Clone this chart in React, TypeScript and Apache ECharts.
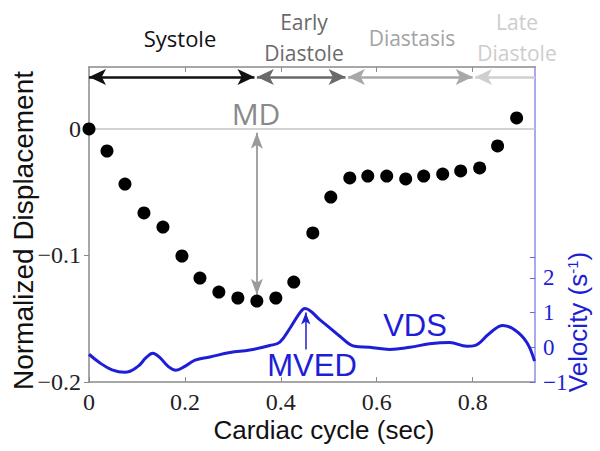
import React, { useEffect, useRef } from "react";
import * as echarts from "echarts";

// Displacement samples (time in sec, normalized displacement)
const dispTime = [0, 0.0375, 0.075, 0.1146, 0.1542, 0.1938, 0.2313, 0.2708, 0.3104, 0.35, 0.3896, 0.427, 0.4667, 0.5042, 0.5438, 0.5813, 0.6208, 0.6604, 0.6979, 0.7375, 0.775, 0.8146, 0.852, 0.8917];
const dispValue = [0, -0.0174, -0.0435, -0.0664, -0.0775, -0.1004, -0.1178, -0.1289, -0.1336, -0.136, -0.1336, -0.121, -0.0822, -0.0538, -0.0387, -0.0372, -0.0372, -0.0395, -0.0372, -0.0356, -0.0332, -0.0308, -0.0134, 0.0087];

// Velocity curve (time in sec, velocity in 1/s)
const velTime = [0, 0.023, 0.048, 0.075, 0.102, 0.119, 0.133, 0.148, 0.165, 0.181, 0.2, 0.221, 0.252, 0.294, 0.335, 0.377, 0.398, 0.419, 0.44, 0.45, 0.481, 0.523, 0.554, 0.585, 0.627, 0.669, 0.71, 0.752, 0.788, 0.804, 0.835, 0.863, 0.888, 0.913, 0.929];
const velValue = [-0.2, -0.45, -0.65, -0.72, -0.55, -0.3, -0.17, -0.3, -0.55, -0.66, -0.55, -0.37, -0.28, -0.15, -0.08, 0.05, 0.15, 0.55, 1.0, 1.12, 0.8, 0.32, 0.03, 0.0, -0.06, 0.0, 0.1, 0.14, 0.03, 0.05, 0.4, 0.63, 0.5, 0.14, -0.4];

const xTicks = [0, 0.2, 0.4, 0.6, 0.8];
const xTickLabels = ["0", "0.2", "0.4", "0.6", "0.8"];
const leftTicks = [-0.2, -0.1, 0];
const leftTickLabels = ["\u22120.2", "\u22120.1", "0"];
const rightTicks = [-1, 0, 1, 2];
const rightTickLabels = ["\u22121", "0", "1", "2"];

// Cardiac phases
const phaseStart = [0, 0.35, 0.54, 0.805];
const phaseEnd = [0.345, 0.535, 0.8, 0.93];
const phaseColor = ["#111111", "#6a6a6a", "#a8a8a8", "#cfcfcf"];

const X_MAX = 0.93;
const Y_MAX = 0.049;
const V_MAX = 8.08;
const BLUE = "#1e1ed6";

export default function App() {
  const ref = useRef<HTMLDivElement>(null);
  useEffect(() => {
    if (!ref.current) return;
    const chart = echarts.init(ref.current, null, { renderer: "svg" });
    const phaseArrowY = 0.041;
    const phaseLines: any[] = phaseStart.map((s, i) => [
      { coord: [s, phaseArrowY], symbol: "arrow", symbolSize: [12, 17] },
      {
        coord: [phaseEnd[i], phaseArrowY],
        symbol: i === 3 ? "none" : "arrow",
        symbolSize: [12, 17],
        lineStyle: { color: phaseColor[i], width: 2.5, type: "solid" },
      },
    ]);
    const option: any = {
      animation: false,
      backgroundColor: "#ffffff",
      grid: { left: 89, right: 65, top: 67, bottom: 69, containLabel: false, outerBoundsMode: "none" },
      xAxis: [
        {
          type: "value",
          min: 0,
          max: X_MAX,
          name: "Cardiac cycle (sec)",
          nameLocation: "middle",
          nameGap: 38,
          nameMoveOverlap: false,
          nameTextStyle: { fontFamily: "Liberation Sans", fontSize: 26, lineHeight: 20, color: "#111", padding: [0, 0, 0, 24] },
          splitLine: { show: false },
          axisLine: { onZero: false, lineStyle: { color: "#8a8a8a", width: 1.5 } },
          axisTick: { inside: true, length: 5, customValues: xTicks, lineStyle: { color: "#8a8a8a" } },
          axisLabel: {
            customValues: xTicks,
            margin: 10,
            fontFamily: "Liberation Serif",
            fontSize: 24,
            lineHeight: 20,
            color: "#222",
            formatter: (v: number) => {
              const i = xTicks.findIndex((t) => Math.abs(t - v) < 1e-6);
              return i >= 0 ? xTickLabels[i] : "";
            },
          },
        },
        {
          type: "value",
          position: "top",
          min: 0,
          max: X_MAX,
          splitLine: { show: false },
          axisLine: { onZero: false, lineStyle: { color: "#8a8a8a", width: 1.5 } },
          axisTick: { inside: true, length: 5, customValues: xTicks.slice(1), lineStyle: { color: "#8a8a8a" } },
          axisLabel: { show: false },
        },
      ],
      yAxis: [
        {
          type: "value",
          position: "left",
          min: -0.2,
          max: Y_MAX,
          name: "Normalized Displacement",
          nameLocation: "middle",
          nameGap: 52,
          nameMoveOverlap: false,
          nameTextStyle: { fontFamily: "Liberation Sans", fontSize: 28, color: "#111", padding: [0, 12, 0, 0] },
          splitLine: { show: false },
          axisLine: { onZero: false, lineStyle: { color: "#8a8a8a", width: 1.5 } },
          axisTick: { inside: false, length: 5, customValues: leftTicks, lineStyle: { color: "#8a8a8a" } },
          axisLabel: {
            customValues: leftTicks,
            margin: 8,
            fontFamily: "Liberation Serif",
            fontSize: 24,
            color: "#222",
            formatter: (v: number) => {
              const i = leftTicks.findIndex((t) => Math.abs(t - v) < 1e-6);
              return i >= 0 ? leftTickLabels[i] : "";
            },
          },
        },
        {
          type: "value",
          position: "right",
          min: -1,
          max: V_MAX,
          splitLine: { show: false },
          axisLine: { onZero: false, lineStyle: { color: "#8c8ce6", width: 1.5 } },
          axisTick: { inside: true, length: 5, customValues: [-1, 0, 1, 2, 2.6], lineStyle: { color: "#6c6cdc" } },
          axisLabel: {
            customValues: rightTicks,
            margin: 8,
            fontFamily: "Liberation Serif",
            fontSize: 23,
            color: BLUE,
            formatter: (v: number) => {
              const i = rightTicks.findIndex((t) => Math.abs(t - v) < 1e-6);
              return i >= 0 ? rightTickLabels[i] : "";
            },
          },
        },
      ],
      series: [
        {
          type: "line",
          xAxisIndex: 0,
          yAxisIndex: 1,
          data: velTime.map((t, i) => [t, velValue[i]]),
          smooth: 0.4,
          showSymbol: false,
          symbol: "none",
          lineStyle: { color: BLUE, width: 3 },
          z: 3,
          markLine: {
            silent: true,
            label: { show: false },
            data: [
              [
                { coord: [0.452, -0.06], symbol: "none" },
                { coord: [0.452, 1.0], symbol: "arrow", symbolSize: [7, 12], lineStyle: { color: BLUE, width: 1.5, type: "solid" } },
              ],
            ],
          },
        },
        {
          type: "scatter",
          xAxisIndex: 0,
          yAxisIndex: 0,
          data: dispTime.map((t, i) => [t, dispValue[i]]),
          symbolSize: 13,
          itemStyle: { color: "#000000", opacity: 1 },
          z: 5,
          markLine: {
            silent: true,
            label: { show: false },
            data: [
              [
                { coord: [0, 0], symbol: "none" },
                { coord: [X_MAX, 0], symbol: "none", lineStyle: { color: "#c4c4c4", width: 1.5, type: "solid" } },
              ],
              ...phaseLines,
              [
                { coord: [0.35, -0.003], symbol: "arrow", symbolSize: [9, 16] },
                { coord: [0.35, -0.131], symbol: "arrow", symbolSize: [9, 16], lineStyle: { color: "#9a9a9a", width: 1.8, type: "solid" } },
              ],
            ],
          },
        },
      ],
      graphic: [
        { type: "text", x: 180, y: 38, style: { text: "Systole", fill: "#111", font: "22px 'Open Sans'", align: "center", verticalAlign: "middle" } },
        { type: "text", x: 304, y: 37, style: { text: "Early\nDiastole", fill: "#6a6a6a", font: "21px 'Open Sans'", lineHeight: 31, align: "center", verticalAlign: "middle" } },
        { type: "text", x: 412, y: 38, style: { text: "Diastasis", fill: "#a3a3a3", font: "21px 'Open Sans'", align: "center", verticalAlign: "middle" } },
        { type: "text", x: 517, y: 37, style: { text: "Late\nDiastole", fill: "#cdcdcd", font: "21px 'Open Sans'", lineHeight: 31, align: "center", verticalAlign: "middle" } },
        { type: "text", x: 256, y: 113, style: { text: "MD", fill: "#8a8a8a", font: "30px 'Open Sans'", align: "center", verticalAlign: "middle" } },
        { type: "text", x: 312, y: 365, style: { text: "MVED", fill: BLUE, font: "31px 'Liberation Sans'", align: "center", verticalAlign: "middle" } },
        { type: "text", x: 415, y: 325, style: { text: "VDS", fill: BLUE, font: "31px 'Liberation Sans'", align: "center", verticalAlign: "middle" } },
        {
          type: "text",
          x: 578,
          y: 322,
          rotation: Math.PI / 2,
          style: {
            text: "Velocity (s{sup|-1})",
            fill: BLUE,
            font: "26px 'Liberation Sans'",
            align: "center",
            verticalAlign: "middle",
            rich: { sup: { fontSize: 15, fill: BLUE, verticalAlign: "top", padding: [0, 0, 10, 0], fontFamily: "Liberation Sans" } },
          },
        },
      ],
    };
    chart.setOption(option);
    return () => chart.dispose();
  }, []);
  return <div ref={ref} style={{ position: "fixed", left: 0, top: 0, width: 600, height: 451 }} />;
}
